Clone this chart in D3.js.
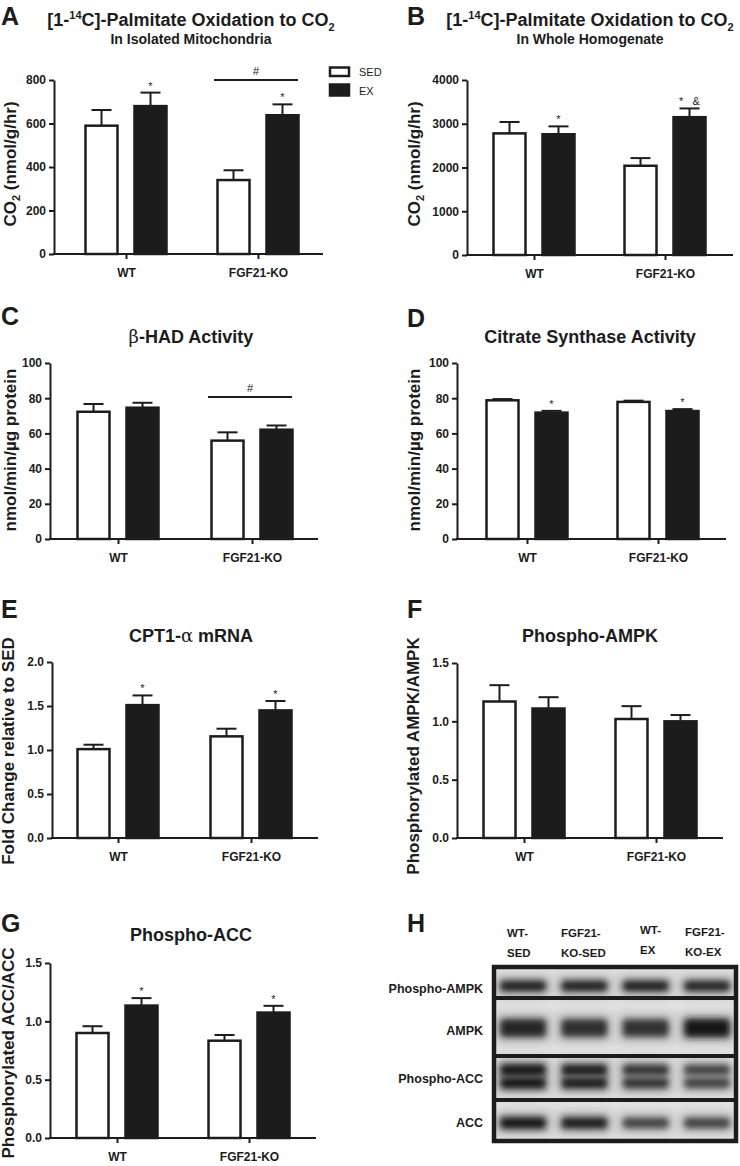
<!DOCTYPE html>
<html><head><meta charset="utf-8">
<script src="https://cdn.jsdelivr.net/npm/d3@7"></script>
<style>
body{margin:0;background:#fff}
svg{display:block;font-family:"Liberation Sans",Arial,Helvetica,sans-serif}
</style>
</head><body>
<svg id="c" width="740" height="1166"></svg>
<script>
// ---------------- DATA ----------------
const groups = ["WT", "FGF21-KO"];
const series = ["SED", "EX"];

// values [group][series]
const aMean = [[590, 680], [340, 638]];
const aErr  = [[72, 62], [45, 50]];
const aTicks = [0, 200, 400, 600, 800];
const aStars = [{g: "WT", s: "EX", t: "*"}, {g: "FGF21-KO", s: "EX", t: "*"}];
const aHash = ["FGF21-KO"];

const bMean = [[2780, 2760], [2040, 3150]];
const bErr  = [[260, 180], [175, 200]];
const bTicks = [0, 1000, 2000, 3000, 4000];
const bStars = [{g: "WT", s: "EX", t: "*"}, {g: "FGF21-KO", s: "EX", t: "*   &"}];

const cMean = [[72.3, 74.6], [55.9, 62.1]];
const cErr  = [[4.4, 2.8], [4.7, 2.4]];
const cTicks = [0, 20, 40, 60, 80, 100];
const cHash = ["FGF21-KO"];

const dMean = [[78.8, 71.8], [77.9, 72.7]];
const dErr  = [[0.7, 1.0], [0.7, 1.1]];
const dTicks = [0, 20, 40, 60, 80, 100];
const dStars = [{g: "WT", s: "EX", t: "*"}, {g: "FGF21-KO", s: "EX", t: "*"}];

const eMean = [[1.01, 1.51], [1.155, 1.45]];
const eErr  = [[0.05, 0.11], [0.087, 0.107]];
const eTicks = [0, 0.5, 1.0, 1.5, 2.0];
const eStars = [{g: "WT", s: "EX", t: "*"}, {g: "FGF21-KO", s: "EX", t: "*"}];

const fMean = [[1.17, 1.11], [1.02, 1.0]];
const fErr  = [[0.14, 0.097], [0.11, 0.054]];
const fTicks = [0, 0.5, 1.0, 1.5];

const gMean = [[0.90, 1.135], [0.834, 1.075]];
const gErr  = [[0.058, 0.064], [0.049, 0.058]];
const gTicks = [0, 0.5, 1.0, 1.5];
const gStars = [{g: "WT", s: "EX", t: "*"}, {g: "FGF21-KO", s: "EX", t: "*"}];

// Western blot (panel H): lanes, row names, relative band intensity
const blotLanes = [["WT-", "SED"], ["FGF21-", "KO-SED"], ["WT-", "EX"], ["FGF21-", "KO-EX"]];
const blotRows = ["Phospho-AMPK", "AMPK", "Phospho-ACC", "ACC"];
const blotPAMPK = [0.93, 0.93, 0.92, 0.9];
const blotAMPK  = [0.88, 0.84, 0.82, 0.95];
const blotPACC  = [0.97, 0.92, 0.82, 0.74];
const blotACC   = [0.97, 0.93, 0.75, 0.74];

// ---------------- DRAW ----------------
const INK = "#1c1c1c";
const svg = d3.select("#c");

function drawPanel(p) {
  const g = svg.append("g");
  const y = d3.scaleLinear().domain([0, p.ticks[p.ticks.length - 1]]).range([p.y0, p.yTop]);
  const x = d3.scalePoint().domain(groups).range(p.cx);
  const xs = d3.scaleBand().domain(series).range([-41.5, 41.5]).paddingInner(15 / 49);
  const bw = xs.bandwidth() - 2;

  const rows = [];
  p.mean.forEach((gv, gi) => gv.forEach((v, si) => rows.push({g: groups[gi], s: series[si], v, e: p.err[gi][si]})));
  const cxOf = d => x(d.g) + xs(d.s) + xs.bandwidth() / 2;
  g.selectAll("rect.bar").data(rows).join("rect").attr("class", "bar")
    .attr("x", d => cxOf(d) - bw / 2).attr("width", bw)
    .attr("y", d => y(d.v)).attr("height", d => y(0) - y(d.v))
    .attr("fill", d => d.s === "SED" ? "#fff" : INK)
    .attr("stroke", INK).attr("stroke-width", 2.5);
  g.selectAll("line.eb").data(rows).join("line").attr("class", "eb")
    .attr("x1", cxOf).attr("x2", cxOf).attr("y1", d => y(d.v)).attr("y2", d => y(d.v + d.e))
    .attr("stroke", INK).attr("stroke-width", 2);
  g.selectAll("line.cap").data(rows).join("line").attr("class", "cap")
    .attr("x1", d => cxOf(d) - 10).attr("x2", d => cxOf(d) + 10)
    .attr("y1", d => y(d.v + d.e)).attr("y2", d => y(d.v + d.e))
    .attr("stroke", INK).attr("stroke-width", 2);

  if (p.stars) {
    g.selectAll("text.star").data(p.stars).join("text").attr("class", "star")
      .attr("x", d => x(d.g) + xs(d.s) + xs.bandwidth() / 2)
      .attr("y", d => { const r = rows.find(q => q.g === d.g && q.s === d.s); return y(r.v + r.e) - 3; })
      .attr("text-anchor", "middle").attr("font-size", 11).attr("fill", INK)
      .text(d => d.t).attr("xml:space", "preserve").style("white-space", "pre");
  }
  if (p.hash) {
    p.hash.forEach(gn => {
      g.append("line").attr("x1", x(gn) - 44).attr("x2", x(gn) + 40)
        .attr("y1", p.hashY).attr("y2", p.hashY).attr("stroke", INK).attr("stroke-width", 2);
      g.append("text").attr("x", x(gn) - 2).attr("y", p.hashY - 5).attr("text-anchor", "middle")
        .attr("font-size", 11).attr("fill", INK).text("#");
    });
  }

  const ya = g.append("g").attr("transform", `translate(${p.x0},0)`)
    .call(d3.axisLeft(y).tickValues(p.ticks).tickFormat(p.fmt).tickSize(5).tickPadding(3).tickSizeOuter(0));
  const xa = g.append("g").attr("transform", `translate(0,${p.y0})`)
    .call(d3.axisBottom(x).tickSize(5).tickPadding(9).tickSizeOuter(0));
  xa.select(".domain").remove();
  g.append("line").attr("x1", p.x0 - 1).attr("x2", p.x1).attr("y1", p.y0).attr("y2", p.y0)
    .attr("stroke", INK).attr("stroke-width", 2);
  [ya, xa].forEach(a => {
    a.selectAll("path.domain").attr("stroke", INK).attr("stroke-width", 2);
    a.selectAll(".tick line").attr("stroke", INK).attr("stroke-width", 2);
    a.selectAll(".tick text").attr("font-size", 12).attr("font-weight", "bold").attr("fill", INK)
      .attr("font-family", '"Liberation Sans",Arial,sans-serif');
  });

  const yl = g.append("text").attr("transform", `translate(${p.ylx},${p.yly}) rotate(-90)`)
    .attr("text-anchor", "middle").attr("font-size", 17).attr("font-weight", "bold").attr("fill", INK);
  p.ylabel.forEach(part => {
    const t = yl.append("tspan").text(part.t);
    if (part.sub) t.attr("font-size", 11).attr("dy", 4);
    if (part.after) t.attr("dy", -4);
  });

  g.append("text").attr("x", p.lx).attr("y", p.ly).attr("font-size", 25).attr("font-weight", "bold")
    .attr("fill", INK).text(p.letter);
  if (p.title) {
    const tt = g.append("text").attr("x", p.tx).attr("y", p.ty).attr("text-anchor", "middle")
      .attr("font-size", 18).attr("font-weight", "bold").attr("fill", INK);
    p.title.forEach(part => {
      const t = tt.append("tspan").text(part.t);
      if (part.sup) t.attr("font-size", 11).attr("dy", -7);
      if (part.afterSup) t.attr("dy", 7);
      if (part.sub) t.attr("font-size", 11).attr("dy", 5);
      if (part.font) t.attr("font-family", part.font).attr("font-weight", part.fw || "bold");
    });
  }
  if (p.subtitle) {
    g.append("text").attr("x", p.tx).attr("y", p.sty).attr("text-anchor", "middle")
      .attr("font-size", 14).attr("font-weight", "bold").attr("fill", INK).text(p.subtitle);
  }
  return g;
}

const fmtInt = d3.format("d"), fmt1 = d3.format(".1f");
const palmTitle = [{t: "[1-"}, {t: "14", sup: true}, {t: "C]-Palmitate Oxidation to CO", afterSup: true}, {t: "2", sub: true}];
const co2Label = [{t: "CO"}, {t: "2", sub: true}, {t: " (nmol/g/hr)", after: true}];

drawPanel({mean: aMean, err: aErr, ticks: aTicks, fmt: fmtInt, stars: aStars, hash: aHash, hashY: 80,
  x0: 54, x1: 323, cx: [126, 258], yTop: 80, y0: 254, ylx: 16, yly: 164, ylabel: co2Label,
  letter: "A", lx: 1, ly: 25, title: palmTitle, tx: 191, ty: 26, subtitle: "In Isolated Mitochondria", sty: 44});
drawPanel({mean: bMean, err: bErr, ticks: bTicks, fmt: fmtInt, stars: bStars,
  x0: 467, x1: 733, cx: [534, 665], yTop: 80, y0: 255, ylx: 420, yly: 164, ylabel: co2Label,
  letter: "B", lx: 407, ly: 25, title: palmTitle, tx: 590, ty: 26, subtitle: "In Whole Homogenate", sty: 44});
drawPanel({mean: cMean, err: cErr, ticks: cTicks, fmt: fmtInt, hash: cHash, hashY: 397,
  x0: 50, x1: 318, cx: [118, 252], yTop: 363, y0: 539, ylx: 16, yly: 450,
  ylabel: [{t: "nmol/min/µg protein"}],
  letter: "C", lx: 1, ly: 325, title: [{t: "β", font: '"DejaVu Serif",serif', fw: "normal"}, {t: "-HAD Activity"}], tx: 191, ty: 343});
drawPanel({mean: dMean, err: dErr, ticks: dTicks, fmt: fmtInt, stars: dStars,
  x0: 457, x1: 726, cx: [527, 658], yTop: 363, y0: 539, ylx: 420, yly: 450,
  ylabel: [{t: "nmol/min/µg protein"}],
  letter: "D", lx: 407, ly: 327, title: [{t: "Citrate Synthase Activity"}], tx: 590, ty: 343});
drawPanel({mean: eMean, err: eErr, ticks: eTicks, fmt: fmt1, stars: eStars,
  x0: 52, x1: 318, cx: [118, 251], yTop: 662, y0: 838, ylx: 14, yly: 751,
  ylabel: [{t: "Fold Change relative to SED"}],
  letter: "E", lx: 1, ly: 618, title: [{t: "CPT1-"}, {t: "α", font: '"DejaVu Serif",serif', fw: "normal"}, {t: " mRNA"}], tx: 191, ty: 642});
drawPanel({mean: fMean, err: fErr, ticks: fTicks, fmt: fmt1,
  x0: 457, x1: 723, cx: [524, 656], yTop: 663, y0: 838, ylx: 419, yly: 756,
  ylabel: [{t: "Phosphorylated AMPK/AMPK"}],
  letter: "F", lx: 407, ly: 618, title: [{t: "Phospho-AMPK"}], tx: 590, ty: 642});
drawPanel({mean: gMean, err: gErr, ticks: gTicks, fmt: fmt1, stars: gStars,
  x0: 50, x1: 316, cx: [117, 249], yTop: 963, y0: 1138, ylx: 14, yly: 1053,
  ylabel: [{t: "Phosphorylated ACC/ACC"}],
  letter: "G", lx: 1, ly: 932, title: [{t: "Phospho-ACC"}], tx: 191, ty: 941});

// legend (panel A)
const leg = svg.append("g");
series.forEach((s, i) => {
  leg.append("rect").attr("x", 330).attr("y", i === 0 ? 67.5 : 84.5).attr("width", 19).attr("height", i === 0 ? 8.5 : 11)
    .attr("fill", s === "SED" ? "#fff" : INK).attr("stroke", INK).attr("stroke-width", 2.5);
  leg.append("text").attr("x", 359).attr("y", i === 0 ? 75.5 : 95).attr("font-size", 11).attr("fill", INK).text(s);
});

// ---------------- PANEL H (blot) ----------------
const H = svg.append("g");
H.append("text").attr("x", 407).attr("y", 932).attr("font-size", 25).attr("font-weight", "bold").attr("fill", INK).text("H");
const defs = svg.append("defs");
defs.append("filter").attr("id", "blur").attr("x", "-30%").attr("y", "-100%").attr("width", "160%").attr("height", "300%")
  .append("feGaussianBlur").attr("stdDeviation", 3);
defs.append("filter").attr("id", "haze").attr("x", "-50%").attr("y", "-100%").attr("width", "200%").attr("height", "300%")
  .append("feGaussianBlur").attr("stdDeviation", 6);

const lane = d3.scalePoint().domain(d3.range(4)).range([523, 707]);
const rowLayout = [
  {y1: 967, y2: 998, bands: [{cy: 986, h: 11}], vals: blotPAMPK, ly: 993},
  {y1: 998, y2: 1056, bands: [{cy: 1028, h: 19}], vals: blotAMPK, ly: 1035},
  {y1: 1056, y2: 1100, bands: [{cy: 1070, h: 12}, {cy: 1083, h: 12}], vals: blotPACC, ly: 1083},
  {y1: 1100, y2: 1141, bands: [{cy: 1123, h: 12}], vals: blotACC, ly: 1127}
];
const bandColor = d3.scaleLinear().domain([0, 1]).range(["#d0d0d0", "#0e0e0e"]);
const clip = defs.append("clipPath").attr("id", "blotclip");
clip.append("rect").attr("x", 494).attr("y", 967).attr("width", 242).attr("height", 174);
const bg = H.append("g").attr("clip-path", "url(#blotclip)");
bg.append("rect").attr("x", 494).attr("y", 967).attr("width", 242).attr("height", 174).attr("fill", "#e6e6e6");
rowLayout.forEach((r, ri) => {
  const rg = bg.append("g");
  const top = r.bands[0].cy - r.bands[0].h / 2, bot = r.bands[r.bands.length - 1].cy + r.bands[0].h / 2;
  rg.selectAll("rect.hz").data(r.vals).join("rect").attr("class", "hz")
    .attr("x", (d, i) => lane(i) - 28).attr("width", 56)
    .attr("y", top - 6).attr("height", bot - top + 12)
    .attr("fill", "#8a8a8a").attr("opacity", d => 0.55 * d).attr("filter", "url(#haze)");
  r.bands.forEach(b => {
    rg.selectAll(null).data(r.vals).join("rect")
      .attr("x", (d, i) => lane(i) - 23).attr("width", 46)
      .attr("y", d => b.cy - b.h * (0.5 + 0.5 * d) / 2).attr("height", d => b.h * (0.5 + 0.5 * d))
      .attr("rx", 4).attr("fill", d => bandColor(d)).attr("filter", "url(#blur)");
  });
  H.append("text").attr("x", 483).attr("y", r.ly).attr("text-anchor", "end").attr("font-size", 12.5)
    .attr("font-weight", "bold").attr("fill", INK).text(blotRows[ri]);
});
H.append("rect").attr("x", 494).attr("y", 967).attr("width", 242).attr("height", 174)
  .attr("fill", "none").attr("stroke", INK).attr("stroke-width", 4.5);
rowLayout.slice(1).forEach(r => {
  H.append("line").attr("x1", 494).attr("x2", 736).attr("y1", r.y1).attr("y2", r.y1).attr("stroke", INK).attr("stroke-width", 4);
});
const laneLabelX = [507, 561, 640, 685];
const laneLabelY = [937, 937, 934, 936];
blotLanes.forEach((l, i) => {
  l.forEach((line, k) => {
    H.append("text").attr("x", laneLabelX[i]).attr("y", laneLabelY[i] + k * 20).attr("font-size", 11.5)
      .attr("font-weight", "bold").attr("fill", INK).text(line);
  });
});
</script>
</body></html>
